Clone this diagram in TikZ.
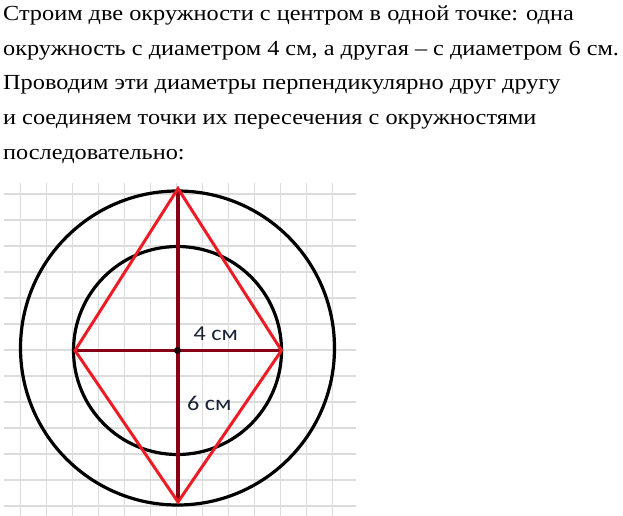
\documentclass[tikz,border=0pt]{standalone}
\usepackage{fontspec}
\setmainfont{Liberation Serif}[FakeStretch=1.13]
\newfontfamily\calibri{Carlito}[FakeStretch=1.14]
\definecolor{gridgray}{RGB}{220,220,220}
\definecolor{paintred}{RGB}{237,28,36}
\definecolor{darkred}{RGB}{136,0,21}
\definecolor{labelcol}{RGB}{25,35,55}
\begin{document}
\begin{tikzpicture}[x=1pt,y=-1pt,
  txt/.style={anchor=base west,inner sep=0pt,font=\fontsize{21.5}{26}\selectfont},
  lbl/.style={anchor=base west,inner sep=0pt,font=\calibri\fontsize{21.2}{25}\selectfont,text=labelcol},
  gridline/.style={draw=gridgray,line width=1.5pt},
  circ/.style={draw=black,line width=3.2pt},
  rhomb/.style={draw=paintred,line width=3pt,line join=miter},
  diam/.style={draw=darkred,line width=3.6pt}]
\useasboundingbox (0,0) rectangle (623,516);
% text
\node[txt] (l1) at (3,20.8) {Строим две окружности с центром в одной точке: одна};
\node[txt] (l2) at (3,55.4) {окружность с диаметром 4 см, а другая – с диаметром 6 см.};
\node[txt] (l3) at (3,90.0) {Проводим эти диаметры перпендикулярно друг другу};
\node[txt] (l4) at (3,124.6) {и соединяем точки их пересечения с окружностями};
\node[txt] (l5) at (3,159.2) {последовательно:};
% grid
\foreach \k in {0,...,12}{
  \draw[gridline] (20.7+26*\k,183) -- (20.7+26*\k,516);
  \draw[gridline] (4,194+26*\k) -- (356,194+26*\k);
}
% circles
\coordinate (O) at (177.5,350.5);
\draw[circ] (177.5,348) circle[radius=157];
\draw[circ] (O) circle[radius=104];
% vertices
\coordinate (T) at (178,188.5);
\coordinate (B) at (178,502);
\coordinate (L) at (75,350.5);
\coordinate (R) at (281.5,350.5);
% diameters
\draw[diam] (T) -- (B);
\draw[diam] (L) -- (R);
% rhombus
\draw[rhomb] (T) -- (R) -- (B) -- (L) -- cycle;
\fill[black!80!darkred] (O) circle[radius=3.5];
% labels
\node[lbl] (a) at (193.5,340.7) {4 см};
\node[lbl] (b) at (187,410.7) {6 см};
\end{tikzpicture}
\end{document}
